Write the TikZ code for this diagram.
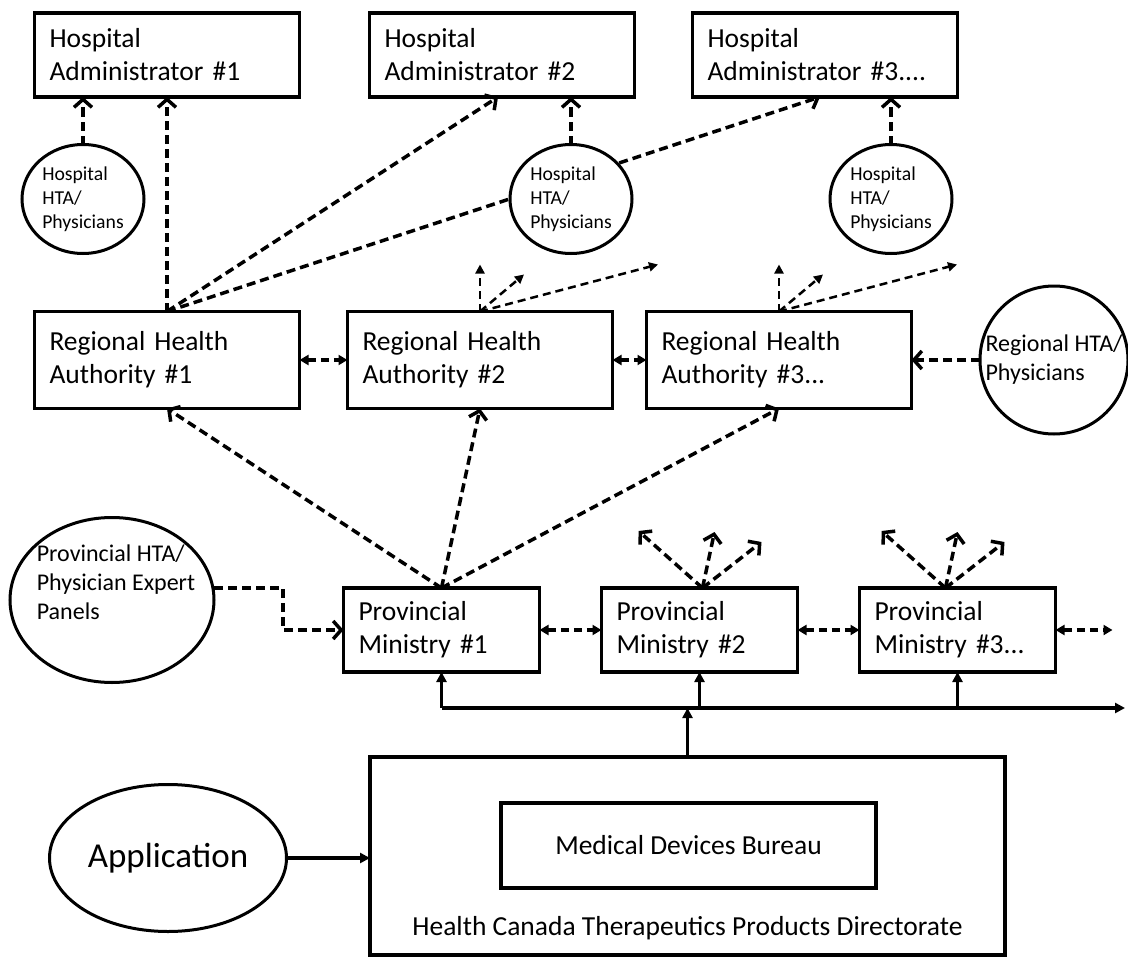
\documentclass[tikz,border=0pt]{standalone}
\usepackage{fontspec}
\setmainfont{Carlito}
\usepackage{tikz}
\usetikzlibrary{shapes.geometric, arrows.meta, positioning, calc, backgrounds}

\begin{document}
\begin{tikzpicture}[x=1pt, y=-1pt, node distance=60pt]
        \tikzset{
            org_box/.style={rectangle, draw=black, line width=3.5pt, outer sep=0pt, fill=white, text width=235pt, align=left, inner xsep=15pt, inner ysep=0pt, minimum height=84pt, font=\fontsize{27.5}{33}\selectfont},
            rha_box/.style={org_box, minimum height=97pt},
            min_box/.style={org_box, text width=166pt},
            plain_box/.style={rectangle, draw=black, line width=3.5pt, outer sep=0pt, fill=white, font=\fontsize{27.5}{33}\selectfont},
            hta_circ/.style={ellipse, draw=black, line width=3pt, outer sep=0pt, fill=white, inner sep=0pt, align=left},
            hta_text/.style={align=left, inner sep=0pt, font=\fontsize{24}{29}\selectfont},
            dash_arrow/.style={line width=3.5pt, dash pattern=on 9pt off 5pt, -{Straight Barb[length=8pt,width=18pt]}},
            fan_arrow/.style={line width=2.5pt, dash pattern=on 8pt off 5pt, -{Triangle[length=9pt,width=9pt]}},
            dash_both/.style={line width=3.5pt, dash pattern=on 8pt off 5pt, {Triangle[length=9pt,width=10pt]}-{Triangle[length=9pt,width=10pt]}},
            feed_arrow/.style={line width=3.5pt, -{Triangle[length=10pt,width=10pt]}}
        }
        \useasboundingbox (0,0) rectangle (1128,958);

        \node[org_box] (ha1) at (167,55) {Hospital\\Administrator \#1};
        \node[org_box, right=70pt of ha1] (ha2) {Hospital\\Administrator \#2};
        \node[org_box, right=58pt of ha2] (ha3) {Hospital\\Administrator \#3....};

        \node[hta_circ, minimum width=122pt, minimum height=109pt, font=\fontsize{19.7}{24}\selectfont] (hc1) at (83,199) {Hospital\\HTA/\\Physicians};
        \node[hta_circ, minimum width=122pt, minimum height=109pt, font=\fontsize{19.7}{24}\selectfont] (hc2) at (571,199) {Hospital\\HTA/\\Physicians};
        \node[hta_circ, minimum width=122pt, minimum height=109pt, font=\fontsize{19.7}{24}\selectfont] (hc3) at (891,199) {Hospital\\HTA/\\Physicians};

        \node[rha_box] (rha1) at (167,360) {Regional Health\\Authority \#1};
        \node[rha_box, right=48pt of rha1] (rha2) {Regional Health\\Authority \#2};
        \node[rha_box, right=34pt of rha2] (rha3) {Regional Health\\Authority \#3...};

        \node[hta_circ, minimum width=148pt, minimum height=148pt] (rc) at (1054,360) {};
        \node[hta_text] (rc_text) at (rc) {Regional HTA/\\Physicians};

        \node[hta_circ, minimum width=204pt, minimum height=165pt] (pc) at (112,600) {};
        \node[hta_text] (pc_text) at (116,582) {Provincial HTA/\\Physician Expert\\Panels};

        \node[min_box] (pm1) at (441.5,630) {Provincial\\Ministry \#1};
        \node[min_box, right=62pt of pm1] (pm2) {Provincial\\Ministry \#2};
        \node[min_box, right=62pt of pm2] (pm3) {Provincial\\Ministry \#3...};

        \node[plain_box, minimum width=635pt, minimum height=198pt] (hctpd) at (687.5,856) {};
        \node[plain_box, minimum width=375pt, minimum height=85pt] (mdb) at (688.5,845.5) {Medical Devices Bureau};
        \node[font=\fontsize{27.5}{33}\selectfont] (hctpd_text) at ($(hctpd.south)+(0,-27)$) {Health Canada Therapeutics Products Directorate};

        \node[hta_circ, minimum width=237pt, minimum height=147pt, font=\fontsize{35}{40}\selectfont] (app) at (168,858) {Application};

        \draw[dash_arrow] (rha1.north) -- (rha1.north |- ha1.south);
        \draw[dash_arrow] (rha1.north) -- ($(ha2.south)+(-4,0)$);
        \begin{scope}[on background layer]
            \draw[dash_arrow] (rha1.north) -- ($(ha3.south)+(-5,0)$);
        \end{scope}
        \foreach \c/\h in {hc1/ha1, hc2/ha2, hc3/ha3}
            \draw[dash_arrow] (\c.north) -- (\c.north |- \h.south);

        \foreach \r in {rha2, rha3}{
            \draw[fan_arrow] (\r.north) -- ++(0,-47);
            \draw[fan_arrow] (\r.north) -- ++(44,-37);
            \draw[fan_arrow] (\r.north) -- ++(178,-47);
        }
        \draw[dash_both] (rha1) -- (rha2);
        \draw[dash_both] (rha2) -- (rha3);
        \draw[dash_arrow] (rc) -- (rha3);

        \foreach \r in {rha1, rha2, rha3}
            \draw[dash_arrow] (pm1.north) -- (\r.south);
        \draw[dash_arrow] (pc.east) ++(0,-12) -- ++(69,0) |- (pm1.west);

        \draw[dash_both] (pm1) -- (pm2);
        \draw[dash_both] (pm2) -- (pm3);
        \draw[dash_both] (pm3.east) -- ++(57,0);
        \foreach \p/\dx in {pm2/3, pm3/-12}{
            \draw[dash_arrow] (\p.north) ++(\dx,0) -- ++(-64,-57);
            \draw[dash_arrow] (\p.north) ++(\dx,0) -- ++(12,-56);
            \draw[dash_arrow] (\p.north) ++(\dx,0) -- ++(59,-46);
        }

        \coordinate (bus_end) at (1125,708);
        \draw[feed_arrow] (pm1.south |- bus_end) -- (bus_end);
        \foreach \p in {pm1, pm2, pm3}
            \draw[feed_arrow] (\p.south |- bus_end) -- (\p.south);
        \draw[feed_arrow] (hctpd.north) -- (hctpd.north |- bus_end);
        \draw[feed_arrow] (app.east) -- (app.east -| hctpd.west);

    \end{tikzpicture}
\end{document}
